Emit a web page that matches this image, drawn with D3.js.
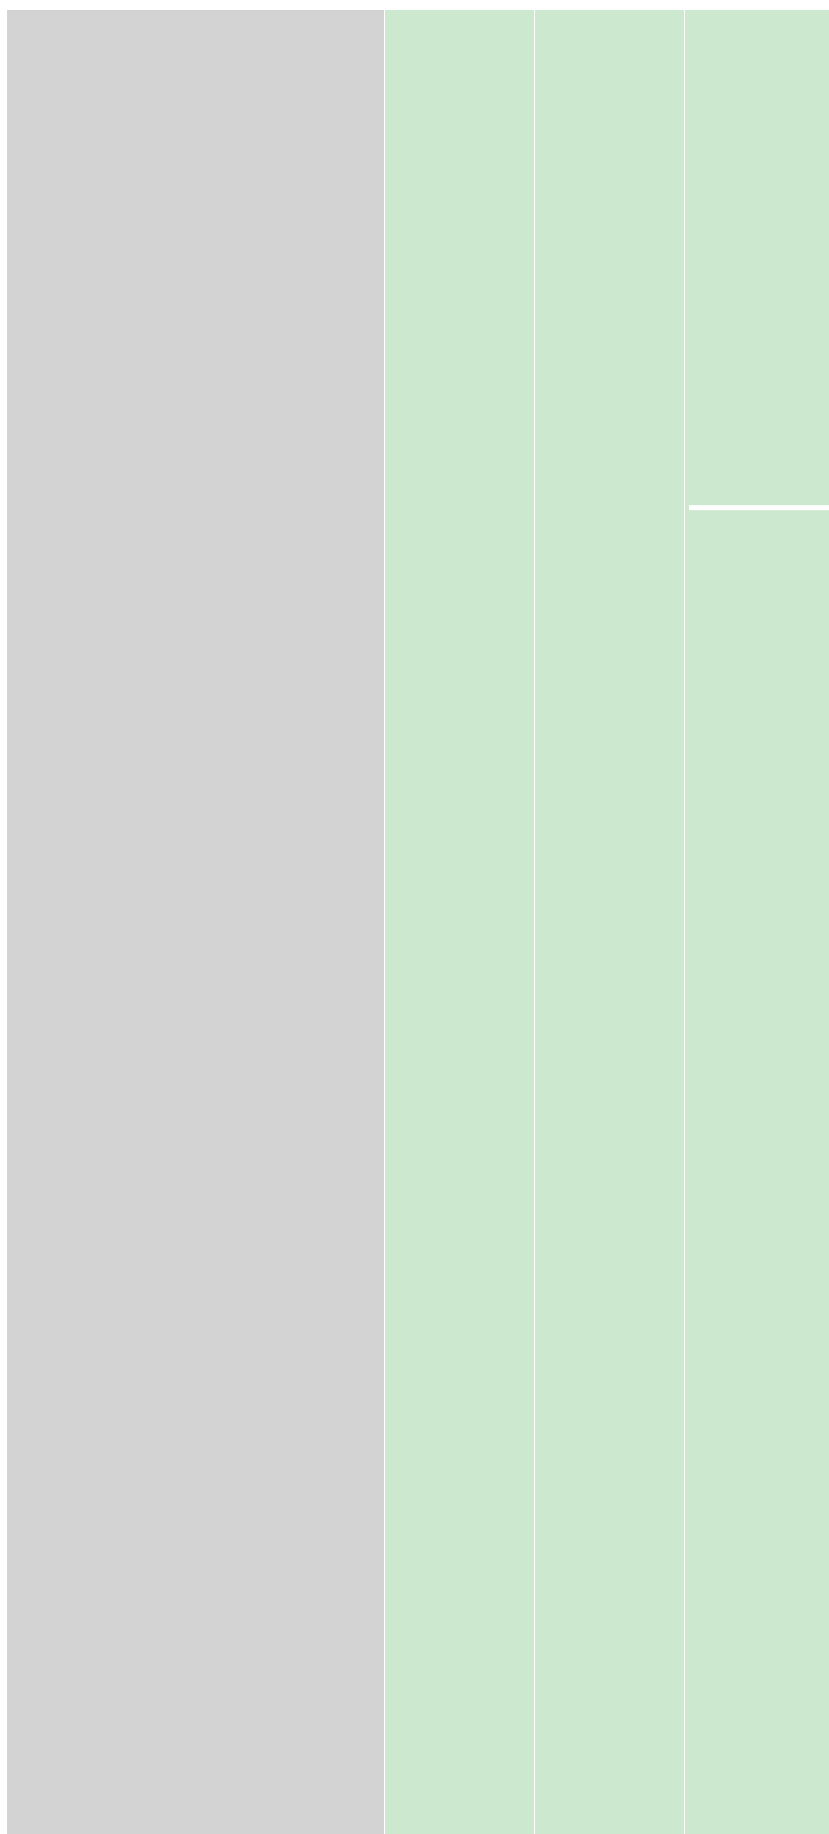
<!DOCTYPE html>
<html>
<head>
<meta charset="utf-8">
<script src="https://cdn.jsdelivr.net/npm/d3@7"></script>
<style>
  body { margin: 0; background: #fff; }
</style>
</head>
<body>
<div id="chart"></div>
<script>
// one chain of nodes, root then three levels
const names = ["root", "level 1", "level 2", "level 3"]
const values = [100, 100, 100, 100]
const colors = ["#d3d3d3", "#cce8cf", "#cce8cf", "#cce8cf"]
// thin split mark inside the last level (share of the column height)
const splitAt = [27]

function Icicle(container) {
    const width = 829
    const height = 1834

    const x = d3.scaleLinear()
        .domain([0, 1, 4])
        .range([7, 385, 835])

    const y = d3.scaleLinear()
        .domain([0, 100])
        .range([10, 1844])

    const svg = d3.select(container)
        .append('svg')
        .attr('width', width)
        .attr('height', height)

    svg.selectAll('rect.node')
        .data(names)
        .join('rect')
        .attr('class', 'node')
        .attr('x', (d, i) => x(i))
        .attr('y', y(0))
        .attr('width', (d, i) => x(i + 1) - x(i) - 1)
        .attr('height', (d, i) => y(values[i]) - y(0))
        .attr('fill', (d, i) => colors[i])

    svg.selectAll('rect.split')
        .data(splitAt)
        .join('rect')
        .attr('class', 'split')
        .attr('x', x(3) + 4)
        .attr('y', d => y(d))
        .attr('width', x(4) - x(3) - 4)
        .attr('height', 5)
        .attr('fill', '#fff')
}

Icicle('#chart')
</script>
</body>
</html>
